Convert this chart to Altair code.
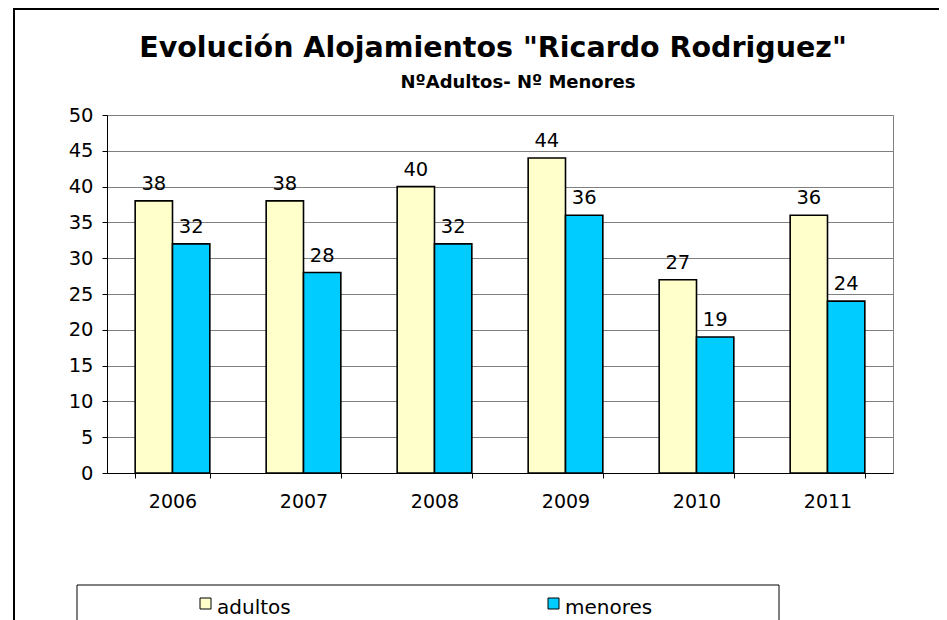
import altair as alt
import pandas as pd

# ---- data ----
years = ["2006", "2007", "2008", "2009", "2010", "2011"]
series = ["adultos", "menores"]
adultos = [38, 38, 40, 44, 27, 36]
menores = [32, 28, 32, 36, 19, 24]
colors = ["#FFFFCC", "#00CCFF"]
y_ticks = [0, 5, 10, 15, 20, 25, 30, 35, 40, 45, 50]
title_text = 'Evolución Alojamientos "Ricardo Rodriguez"'
subtitle_text = "NºAdultos- Nº Menores"

rows = []
for i, yr in enumerate(years):
    rows.append({"year": yr, "series": "adultos", "value": adultos[i]})
    rows.append({"year": yr, "series": "menores", "value": menores[i]})
df = pd.DataFrame(rows)

FONT = "DejaVu Sans"
W, H = 786, 358
PAD_L, PAD_T = 99, 107

x_axis = alt.Axis(
    title=None, labelAngle=0, tickBand="extent", grid=False,
    domainColor="#000000", tickColor="#000000", tickSize=5,
    labelFont=FONT, labelFontSize=19, labelColor="#000000", labelPadding=14,
)
y_axis = alt.Axis(
    title=None, values=y_ticks, labelOverlap=False,
    grid=True, gridColor="#808080", gridWidth=1,
    domainColor="#000000", tickColor="#000000", tickSize=5,
    labelFont=FONT, labelFontSize=19.5, labelColor="#000000", labelPadding=9,
)
x_scale = alt.Scale(paddingInner=0.43, paddingOuter=0.215)
y_scale = alt.Scale(domain=[0, 50], nice=False)
off_scale = alt.Scale(paddingInner=0, paddingOuter=0)


def x_enc():
    return alt.X("year:N", sort=years, scale=x_scale, axis=x_axis)


def y_enc():
    return alt.Y("value:Q", scale=y_scale, axis=y_axis)


def off_enc():
    return alt.XOffset("series:N", sort=series, scale=off_scale)


bars = alt.Chart(df).mark_bar(stroke="#000000", strokeWidth=1.6).encode(
    x=x_enc(),
    xOffset=off_enc(),
    y=y_enc(),
    color=alt.Color("series:N", scale=alt.Scale(domain=series, range=colors), legend=None),
)

labels = alt.Chart(df).mark_text(
    dy=-11, baseline="alphabetic", font=FONT, fontSize=19.5, color="#000000"
).encode(
    x=x_enc(),
    xOffset=off_enc(),
    y=y_enc(),
    text="value:Q",
)

one = pd.DataFrame({"k": [0]})

frame = alt.Chart(one).mark_rect(
    fill="transparent", stroke="#000000", strokeWidth=2, clip=False
).encode(
    x=alt.value(-93), x2=alt.value(W + 80), y=alt.value(-106), y2=alt.value(H + 160)
)

title = alt.Chart(one).mark_text(
    text=title_text, font=FONT, fontSize=28.5, fontWeight="bold",
    align="center", baseline="alphabetic", color="#000000", clip=False
).encode(x=alt.value(386), y=alt.value(-58.5))

subtitle = alt.Chart(one).mark_text(
    text=subtitle_text, font=FONT, fontSize=18, fontWeight="bold",
    align="center", baseline="alphabetic", color="#000000", clip=False
).encode(x=alt.value(411), y=alt.value(-27))

legend_box = alt.Chart(one).mark_rect(
    fill="#FFFFFF", stroke="#000000", strokeWidth=1, clip=False
).encode(
    x=alt.value(-30), x2=alt.value(672), y=alt.value(470), y2=alt.value(H + 160)
)

LEG_X = [93, 441]
legend_layers = []
for name, col, lx in zip(series, colors, LEG_X):
    sw = alt.Chart(one).mark_rect(
        fill=col, stroke="#000000", strokeWidth=1, clip=False
    ).encode(x=alt.value(lx), x2=alt.value(lx + 11), y=alt.value(483), y2=alt.value(494))
    tx = alt.Chart(one).mark_text(
        text=name, font=FONT, fontSize=20, align="left", baseline="alphabetic",
        color="#000000", clip=False
    ).encode(x=alt.value(lx + 17), y=alt.value(499))
    legend_layers += [sw, tx]

chart = alt.layer(
    bars, labels, frame, title, subtitle, legend_box, *legend_layers
).properties(
    width=W, height=H,
    autosize=alt.AutoSizeParams(type="none"),
    padding={"left": PAD_L, "top": PAD_T, "right": 46, "bottom": 147},
    background="#FFFFFF",
).configure_view(
    stroke="#808080", strokeWidth=1
)

chart.save("out.html", embed_options={"renderer": "svg", "actions": False})
